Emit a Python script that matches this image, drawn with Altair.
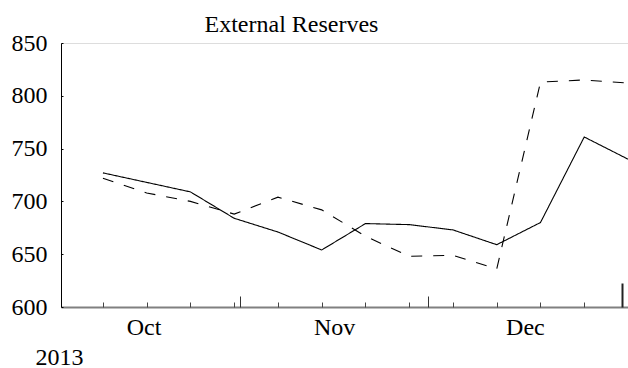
import altair as alt
import pandas as pd

# Weekly observations (Thursdays)
dates = [
    "2013-10-10T00:00:00", "2013-10-17T00:00:00", "2013-10-24T00:00:00",
    "2013-10-31T00:00:00", "2013-11-07T00:00:00", "2013-11-14T00:00:00",
    "2013-11-21T00:00:00", "2013-11-28T00:00:00", "2013-12-05T00:00:00",
    "2013-12-12T00:00:00", "2013-12-19T00:00:00", "2013-12-26T00:00:00",
    "2014-01-02T00:00:00",
]
solid_values = [727, 718, 709, 684, 671, 654, 679, 678, 673, 659, 680, 761, 740]
dashed_values = [722, 708, 700, 688, 704, 692, 667, 648, 649, 636, 813, 815, 812]

y_ticks = [600, 650, 700, 750, 800, 850]

FONT = "Liberation Serif"

df = pd.DataFrame(
    {
        "date": dates * 2,
        "value": solid_values + dashed_values,
        "series": ["A"] * len(dates) + ["B"] * len(dates),
    }
)


def dt(y, m, d, h=0):
    return alt.DateTime(year=y, month=m, date=d, hours=h)


x_scale = alt.Scale(domain=[dt(2013, 10, 3, 7), dt(2014, 1, 2, 0)])
y_scale = alt.Scale(domain=[600, 850], nice=False, zero=False)

week_ticks = [
    dt(y, m, d)
    for (y, m, d) in [
        (2013, 10, 10), (2013, 10, 17), (2013, 10, 24), (2013, 10, 31),
        (2013, 11, 7), (2013, 11, 14), (2013, 11, 21), (2013, 11, 28),
        (2013, 12, 5), (2013, 12, 12), (2013, 12, 19), (2013, 12, 26),
        (2014, 1, 2),
    ]
]
month_ticks = [dt(2013, 11, 1), dt(2013, 12, 1)]
year_ticks = [dt(2014, 1, 1)]
month_label_pos = [dt(2013, 10, 16, 12), dt(2013, 11, 16), dt(2013, 12, 16, 12)]

base = alt.Chart(df)

lines = base.mark_line(color="black", strokeWidth=1.1).encode(
    x=alt.X(
        "date:T",
        scale=x_scale,
        axis=alt.Axis(
            orient="bottom",
            values=month_label_pos,
            format="%b",
            tickSize=0,
            grid=False,
            domainColor="#808080",
            domainWidth=2,
            labelFont=FONT,
            labelFontSize=24,
            labelColor="black",
            labelPadding=8,
            labelFlush=False,
            labelOverlap=False,
            title="2013",
            titleFont=FONT,
            titleFontSize=24,
            titleFontWeight="normal",
            titleColor="black",
            titleX=-26,
            titleY=57,
            titleAlign="left",
            titleBaseline="alphabetic",
        ),
    ),
    y=alt.Y(
        "value:Q",
        scale=y_scale,
        axis=alt.Axis(
            orient="left",
            values=y_ticks,
            tickSize=0,
            grid=False,
            domainColor="black",
            domainWidth=1,
            labelFont=FONT,
            labelFontSize=24,
            labelColor="black",
            labelPadding=14,
            labelFlush=False,
            labelOverlap=False,
            title=None,
        ),
    ),
    strokeDash=alt.StrokeDash(
        "series:N",
        scale=alt.Scale(domain=["A", "B"], range=[[1, 0], [11, 11]]),
        legend=None,
    ),
    detail="series:N",
)


def tick_layer(values, length, width, color):
    # Upward-pointing ticks: the axis is lifted into the plot by its own tick length
    return base.mark_point(opacity=0).encode(
        x=alt.X(
            "date:T",
            scale=x_scale,
            axis=alt.Axis(
                orient="bottom",
                values=values,
                offset=-length,
                tickSize=length,
                tickWidth=width,
                tickColor=color,
                labels=False,
                domain=False,
                grid=False,
                title=None,
            ),
        )
    )


week_layer = tick_layer(week_ticks, 5, 1, "#444444")
month_layer = tick_layer(month_ticks, 11, 1, "#333333")
year_layer = tick_layer(year_ticks, 24, 2, "#222222")

y_tick_layer = base.mark_point(opacity=0).encode(
    y=alt.Y(
        "value:Q",
        scale=y_scale,
        axis=alt.Axis(
            orient="left",
            values=y_ticks,
            offset=-2,
            tickSize=2,
            tickColor="black",
            labels=False,
            domain=False,
            grid=False,
            title=None,
        ),
    )
)

chart = (
    alt.layer(lines, week_layer, month_layer, year_layer, y_tick_layer)
    .resolve_axis(x="independent", y="independent")
    .properties(
        width=567,
        height=264,
        title=alt.TitleParams(
            text="External Reserves",
            font=FONT,
            fontSize=24,
            fontWeight="normal",
            color="black",
            anchor="middle",
            dx=-53,
            dy=10,
        ),
        autosize=alt.AutoSizeParams(type="none"),
        padding={"left": 61, "top": 43, "right": 0, "bottom": 61},
    )
    .configure_view(stroke=None)
    .configure(background="white")
)

chart.save("out.html", embed_options={"renderer": "svg", "actions": False})
